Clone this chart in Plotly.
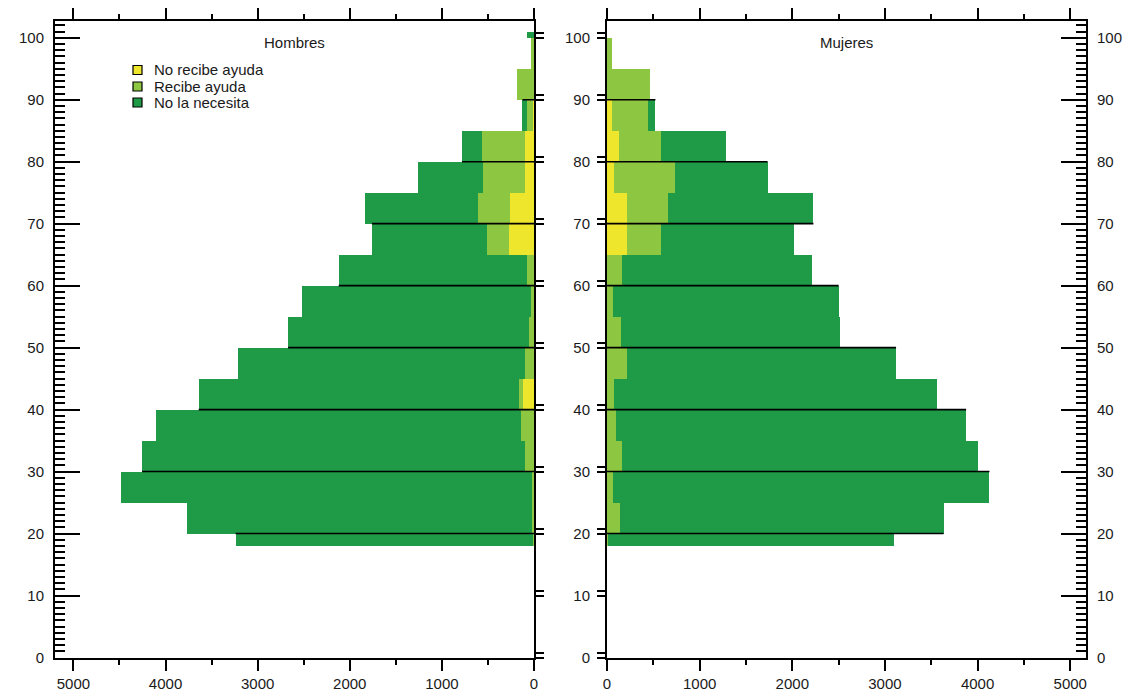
import plotly.graph_objects as go

# ---------------- data ----------------
age_lo = [18, 20, 25, 30, 35, 40, 45, 50, 55, 60, 65, 70, 75, 80, 85, 90, 95, 100]
age_hi = [20, 25, 30, 35, 40, 45, 50, 55, 60, 65, 70, 75, 80, 85, 90, 95, 100, 101]

series_names = ["No recibe ayuda", "Recibe ayuda", "No la necesita"]
series_colors = ["#EEE62C", "#8DC640", "#1F9A47"]

h_no_recibe = [0, 0, 0, 0, 0, 120, 0, 0, 0, 0, 268, 265, 100, 95, 15, 0, 0, 0]
h_recibe = [15, 20, 20, 100, 140, 40, 100, 50, 30, 80, 246, 346, 457, 473, 60, 185, 30, 0]
h_no_necesita = [3225, 3750, 4460, 4155, 3965, 3480, 3115, 2620, 2490, 2040, 1246, 1219, 697, 214, 50, 0, 0, 75]

m_no_recibe = [0, 0, 0, 0, 0, 0, 0, 0, 0, 0, 213, 213, 78, 130, 58, 0, 0, 0]
m_recibe = [15, 136, 66, 163, 97, 78, 213, 147, 66, 163, 368, 446, 651, 451, 388, 465, 50, 0]
m_no_necesita = [3085, 3496, 4062, 3837, 3779, 3488, 2907, 2365, 2434, 2046, 1442, 1569, 1004, 706, 77, 0, 0, 0]

x_ticks = [0, 1000, 2000, 3000, 4000, 5000]
y_ticks = [0, 10, 20, 30, 40, 50, 60, 70, 80, 90, 100]
decades = [20, 30, 40, 50, 60, 70, 80, 90]
panel_titles = ["Hombres", "Mujeres"]

# ---------------- layout helpers ----------------
W, H = 1132, 699
OFF = 8  # page body margin in the rendered screenshot
def px(p):
    return (p - OFF) / W
def py(p):
    return 1 - (p - OFF) / H

FONT = "Arial, Liberation Sans, sans-serif"
TXT = "#1a1a1a"

mid = [(a + b) / 2 for a, b in zip(age_lo, age_hi)]
wid = [b - a for a, b in zip(age_lo, age_hi)]

fig = go.Figure()

for vals_set, xa, ya in [((h_no_recibe, h_recibe, h_no_necesita), "x", "y"),
                         ((m_no_recibe, m_recibe, m_no_necesita), "x2", "y2")]:
    for vals, name, col in zip(vals_set, series_names, series_colors):
        fig.add_trace(go.Bar(x=vals, y=mid, width=wid, orientation="h", name=name,
                             marker=dict(color=col, line=dict(width=0)),
                             xaxis=xa, yaxis=ya, showlegend=False))

# decade lines
def totals(a, b, c):
    return [p + q + r for p, q, r in zip(a, b, c)]

h_tot = totals(h_no_recibe, h_recibe, h_no_necesita)
m_tot = totals(m_no_recibe, m_recibe, m_no_necesita)

def line_xy(tot, fn):
    xs, ys = [], []
    for d in decades:
        below = tot[age_hi.index(d)]
        above = tot[age_lo.index(d)]
        xs += [0, fn(below, above), None]
        ys += [d, d, None]
    return xs, ys

lx, ly = line_xy(h_tot, min)
rx, ry = line_xy(m_tot, max)
fig.add_trace(go.Scatter(x=lx, y=ly, mode="lines", line=dict(color="black", width=1.6),
                         xaxis="x", yaxis="y", showlegend=False, hoverinfo="skip"))
fig.add_trace(go.Scatter(x=rx, y=ry, mode="lines", line=dict(color="black", width=1.6),
                         xaxis="x2", yaxis="y2", showlegend=False, hoverinfo="skip"))

# dummy traces for overlay axes
for xa, ya in [("x", "y3"), ("x2", "y4"), ("x2", "y5")]:
    fig.add_trace(go.Scatter(x=[None], y=[None], xaxis=xa, yaxis=ya,
                             showlegend=False, hoverinfo="skip"))

YR = [0, 102.7]
ydom = [py(657.5), py(21)]

xcommon = dict(tickvals=x_ticks, ticks="outside", ticklen=11, tickwidth=2, tickcolor="black",
               showline=True, linewidth=2, linecolor="black", mirror="ticks",
               showgrid=False, zeroline=False, automargin=False,
               tickfont=dict(family=FONT, size=15, color=TXT),
               minor=dict(dtick=500, tick0=0, ticks="outside", ticklen=5, tickwidth=2,
                          tickcolor="black", showgrid=False))

ymain = dict(range=YR, domain=ydom, tickvals=y_ticks, ticks="inside", ticklen=25, tickwidth=2,
             tickcolor="black", showline=True, linewidth=2, linecolor="black", mirror=True,
             showgrid=False, zeroline=False, ticklabelstandoff=6, automargin=False,
             tickfont=dict(family=FONT, size=15, color=TXT),
             minor=dict(dtick=1, tick0=0, ticks="inside", ticklen=10, tickwidth=1.6,
                        tickcolor="black", showgrid=False))

yinner = dict(range=YR, ticks="outside", ticklen=9, tickwidth=1.6, tickcolor="black",
              showline=False, showgrid=False, zeroline=False, automargin=False)

inner_off = [d + 0.8 for d in y_ticks]

fig.update_layout(
    template="none",
    width=W, height=H, margin=dict(l=0, r=0, t=0, b=0, autoexpand=False),
    paper_bgcolor="white", plot_bgcolor="white",
    barmode="stack", bargap=0, showlegend=False,
    xaxis=dict(domain=[px(55), px(534)], range=[5200, 0], anchor="y", **xcommon),
    xaxis2=dict(domain=[px(607), px(1086)], range=[0, 5170], anchor="y2", **xcommon),
    yaxis=dict(anchor="x", side="left", **ymain),
    yaxis2=dict(anchor="x2", side="right", **ymain),
    yaxis3=dict(overlaying="y", anchor="x", side="right",
                tickvals=y_ticks + inner_off, showticklabels=False, **yinner),
    yaxis4=dict(overlaying="y2", anchor="x2", side="left", tickvals=y_ticks,
                showticklabels=True, ticklabelstandoff=4,
                tickfont=dict(family=FONT, size=15, color=TXT), **yinner),
    yaxis5=dict(overlaying="y2", anchor="x2", side="left", tickvals=inner_off,
                showticklabels=False, **yinner),
)

# panel titles
for t, cx in zip(panel_titles, [(55 + 534) / 2, (607 + 1086) / 2]):
    fig.add_annotation(x=px(cx), y=py(42), xref="paper", yref="paper", text=t,
                       showarrow=False, xanchor="center", yanchor="middle",
                       font=dict(family=FONT, size=15, color=TXT))

# legend (manual, to match the compact spacing)
leg_y = [70, 86.5, 102.5]
for name, col, yy in zip(series_names, series_colors, leg_y):
    fig.add_shape(type="rect", xref="paper", yref="paper",
                  x0=px(133), x1=px(142), y0=py(yy + 4.5), y1=py(yy - 4.5),
                  fillcolor=col, line=dict(color="black", width=1.2))
    fig.add_annotation(x=px(152), y=py(yy), xref="paper", yref="paper", text=name,
                       showarrow=False, xanchor="left", yanchor="middle",
                       font=dict(family=FONT, size=15, color=TXT))

fig.write_html("out.html")
